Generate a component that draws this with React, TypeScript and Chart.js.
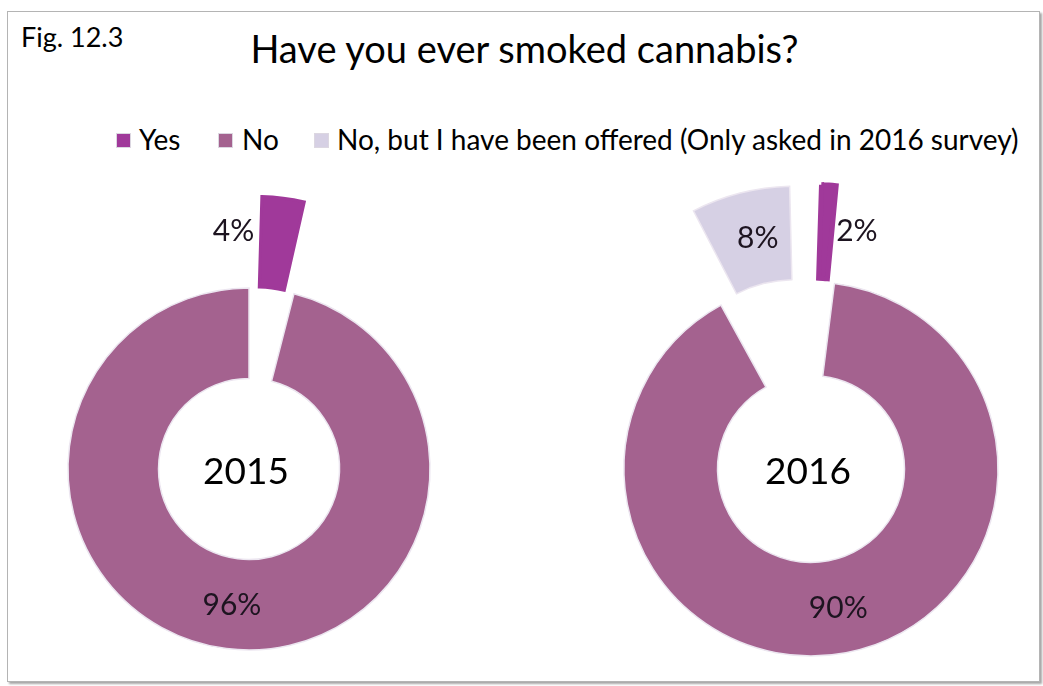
import React, { useEffect, useRef } from 'react';
import { Chart, registerables } from 'chart.js';

Chart.register(...registerables);

// ---- data ----
const categories = ['Yes', 'No', 'No, but I have been offered (Only asked in 2016 survey)'];
const years = ['2015', '2016'];
const values2015 = [4, 96];
const values2016 = [2, 90, 8];
const titleText = 'Have you ever smoked cannabis?';
const figText = 'Fig. 12.3';

// ---- style ----
const COLORS = ['#a0399a', '#a4628f', '#d6d0e4'];
const FONT = 'Lato, "Noto Sans", sans-serif';
const SLICE_BORDER = 'rgba(236,230,240,1)';

const sliceLabels = {
  id: 'sliceLabels',
  afterDatasetsDraw(chart: any, _args: any, opts: any) {
    const ctx = chart.ctx;
    const meta = chart.getDatasetMeta(0);
    const data = chart.data.datasets[0].data;
    ctx.save();
    ctx.textAlign = 'center';
    ctx.textBaseline = 'middle';
    meta.data.forEach((arc: any, i: number) => {
      const p = arc.getProps(['x', 'y', 'startAngle', 'endAngle', 'innerRadius', 'outerRadius', 'circumference'], true);
      const off = (arc.options.offset || 0) / 4;
      const fix = 1 - Math.sin(Math.min(Math.PI, p.circumference || 0));
      const mid = (p.startAngle + p.endAngle) / 2;
      const r = off + off * fix + (p.innerRadius + p.outerRadius) / 2;
      const sh = (opts.shifts && opts.shifts[i]) || [0, 0];
      const x = p.x + Math.cos(mid) * r + sh[0];
      const y = p.y + Math.sin(mid) * r + sh[1];
      ctx.font = `30px ${FONT}`;
      ctx.fillStyle = '#1d1420';
      ctx.fillText(`${data[i]}%`, x, y);
    });
    const ca = chart.chartArea;
    ctx.font = `37px ${FONT}`;
    ctx.fillStyle = '#000';
    ctx.fillText(opts.center, ca.left + ca.width / 2 - 3, ca.top + ca.height / 2 + 3);
    ctx.restore();
  },
};

type DonutProps = {
  values: number[];
  labels: string[];
  offsets: number[];
  borderWidths: number[];
  center: string;
  shifts: number[][];
  radius: number;
  cx: number;
  cy: number;
};

const SIZE = 600;

function Donut({ values, labels, offsets, borderWidths, center, shifts, radius, cx, cy }: DonutProps) {
  const ref = useRef<HTMLCanvasElement | null>(null);
  useEffect(() => {
    const fills = COLORS.slice(0, values.length);
    const chart = new Chart(ref.current as HTMLCanvasElement, {
      type: 'doughnut',
      data: {
        labels,
        datasets: [
          {
            data: values,
            backgroundColor: fills,
            borderColor: borderWidths.map((w, i) => (w > 2 ? fills[i] : SLICE_BORDER)),
            borderWidth: borderWidths,
            borderJoinStyle: 'miter',
            offset: offsets,
          } as any,
        ],
      },
      options: {
        responsive: false,
        animation: false,
        events: [],
        radius,
        cutout: '50%',
        layout: { padding: 0 },
        plugins: {
          legend: { display: false },
          tooltip: { enabled: false },
          sliceLabels: { center, shifts },
        } as any,
      } as any,
      plugins: [sliceLabels as any],
    });
    return () => chart.destroy();
  }, []);
  return (
    <canvas
      ref={ref}
      width={SIZE}
      height={SIZE}
      style={{ position: 'absolute', left: cx - SIZE / 2, top: cy - SIZE / 2, width: SIZE, height: SIZE }}
    />
  );
}

export default function App() {
  const legendItems = [
    { label: categories[0], color: COLORS[0], sq: 116, tx: 139 },
    { label: categories[1], color: COLORS[1], sq: 218, tx: 242 },
    { label: categories[2], color: COLORS[2], sq: 314, tx: 337 },
  ];
  return (
    <div
      style={{
        position: 'fixed',
        left: 0,
        top: 0,
        width: 1043,
        height: 686,
        overflow: 'hidden',
        background: '#fff',
        fontFamily: FONT,
      }}
    >
      <div
        style={{
          position: 'absolute',
          left: 7,
          top: 11,
          width: 1031,
          height: 669,
          border: '1px solid #b4b4b4',
          boxShadow: '2px 2px 2px rgba(0,0,0,0.35)',
          background: '#fff',
        }}
      />
      <Donut
        values={values2015}
        labels={categories.slice(0, 2)}
        offsets={[210, 0]}
        borderWidths={[3, 1.5]}
        center={years[0]}
        shifts={[[-44, -12], [0, 2]]}
        radius={181}
        cx={249}
        cy={469}
      />
      <Donut
        values={values2016}
        labels={categories}
        offsets={[208, 0, 258]}
        borderWidths={[5, 1.5, 1.5]}
        center={years[1]}
        shifts={[[31, 0], [1, 2], [6, 0]]}
        radius={187}
        cx={811}
        cy={469}
      />
      <div
        style={{
          position: 'absolute',
          left: 21,
          top: 23,
          fontSize: 27,
          lineHeight: '27px',
          color: '#000',
          whiteSpace: 'nowrap',
        }}
      >
        {figText}
      </div>
      <div
        style={{
          position: 'absolute',
          left: 0,
          width: 1049,
          top: 29,
          fontSize: 38,
          lineHeight: '38px',
          textAlign: 'center',
          color: '#000',
          whiteSpace: 'nowrap',
        }}
      >
        {titleText}
      </div>
      {legendItems.map((it) => (
        <React.Fragment key={it.label}>
          <div
            style={{
              position: 'absolute',
              left: it.sq,
              top: 133,
              width: 13,
              height: 13,
              background: it.color,
              border: '1px solid rgba(220,215,225,1)',
            }}
          />
          <div
            style={{
              position: 'absolute',
              left: it.tx,
              top: 125,
              fontSize: 28,
              lineHeight: '28px',
              color: '#000',
              whiteSpace: 'nowrap',
            }}
          >
            {it.label}
          </div>
        </React.Fragment>
      ))}
    </div>
  );
}
